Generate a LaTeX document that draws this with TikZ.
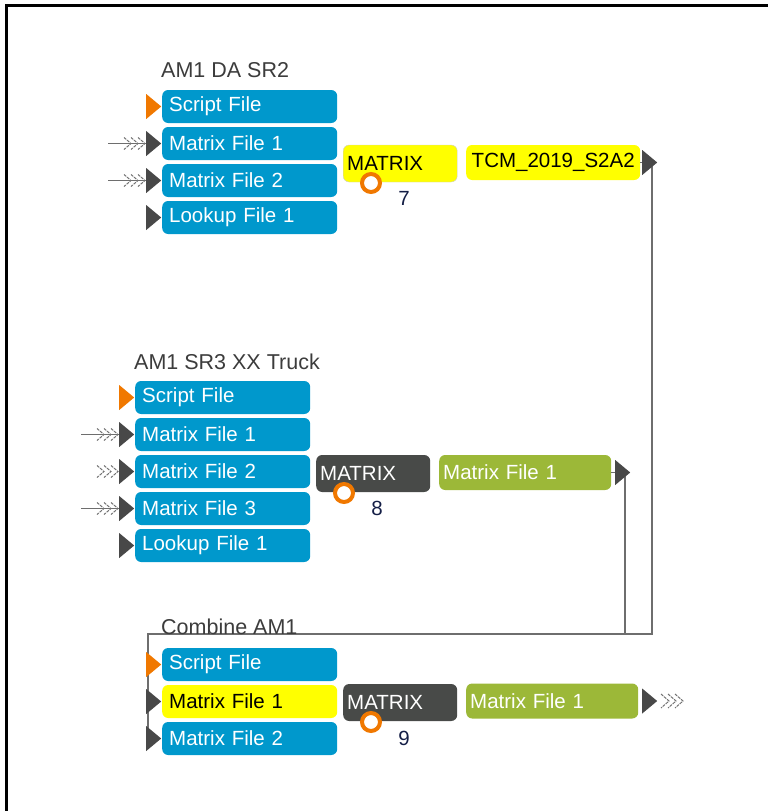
\documentclass[tikz,border=0pt]{standalone}
\usepackage{fontspec}
\setmainfont{Liberation Sans}
\usetikzlibrary{shapes.geometric,positioning,calc}
\definecolor{portblue}{RGB}{0,152,204}
\definecolor{matyellow}{RGB}{255,255,0}
\definecolor{darkbox}{RGB}{72,74,72}
\definecolor{olive}{RGB}{156,184,56}
\definecolor{portorange}{RGB}{240,120,0}
\definecolor{tridark}{RGB}{72,72,72}
\definecolor{wiregray}{RGB}{110,110,110}
\definecolor{titlegray}{RGB}{60,60,60}
\definecolor{numblue}{RGB}{20,30,70}

\begin{document}
\begin{tikzpicture}[x=1pt, y=-1pt,
    every node/.style={font=\fontsize{20.5}{24}\selectfont},
    title/.style={anchor=west, inner sep=0pt, text=titlegray,
        font=\fontsize{21.5}{24}\selectfont},
    port/.style={rectangle, rounded corners=6pt, fill=portblue, text=white,
        minimum width=175pt, minimum height=33pt, text width=161pt,
        inner xsep=7pt, inner ysep=0pt, align=left, anchor=west},
    inport/.style={isosceles triangle, isosceles triangle stretches,
        inner sep=0pt, minimum width=25pt, minimum height=15pt,
        fill=tridark, anchor=lower side},
    matbox/.style={rectangle, rounded corners=6pt, minimum width=114pt,
        minimum height=37pt, text width=106pt, inner xsep=4pt,
        inner ysep=0pt, align=left, anchor=west},
    outbox/.style={rectangle, rounded corners=6pt, minimum height=35pt,
        inner xsep=4pt, inner ysep=0pt, align=left, anchor=west},
    ring/.style={circle, draw=portorange, line width=4pt, fill=white,
        minimum size=18pt, inner sep=0pt},
    num/.style={text=numblue, inner sep=0pt},
    wire/.style={wiregray, line width=1.2pt},
    chev/.style={gray!90!black, line width=1pt, dash pattern=on 3pt off 1pt}]
    \useasboundingbox (0,0) rectangle (768,811);
    % Frame
    \draw[line width=3pt] (6,811) -- (6,5) -- (768,5);

    % Wires to Combine AM1
    \coordinate (k1) at (652,634);
    \coordinate (k2) at (625,634);
    \coordinate (k3) at (148,634);
    \draw[wire] (k1 |- 0,162.5) -- (k1) -- (k3) -- (148,748);
    \draw[wire] (k2 |- 0,472.5) -- (k2);

    % AM1 DA SR2
    \node[title] (t1) at (161,70) {AM1 DA SR2};
    \node[port] (a1) at (162,106.5) {Script File};
    \node[port] (a2) at (162,143.5) {Matrix File 1};
    \node[port] (a3) at (162,180.5) {Matrix File 2};
    \node[port] (a4) at (162,217.5) {Lookup File 1};
    \node[inport, fill=portorange] (a1i) at (146,106.5) {};
    \node[inport] (a2i) at (146,143.5) {};
    \node[inport] (a3i) at (146,180.5) {};
    \node[inport] (a4i) at (146,217.5) {};
    \coordinate (a2f) at (108,143.5);
    \coordinate (a3f) at (108,180.5);
    \draw[wiregray] (a2f) -- (a2i.lower side);
    \draw[wiregray] (a3f) -- (a3i.lower side);
    \draw[chev] (124,137.5) -- (131,143.5) -- (124,149.5) (131,137.5) -- (138,143.5) -- (131,149.5)
        (138,137.5) -- (145,143.5) -- (138,149.5);
    \draw[chev] (124,174.5) -- (131,180.5) -- (124,186.5) (131,174.5) -- (138,180.5) -- (131,186.5)
        (138,174.5) -- (145,180.5) -- (138,186.5);
    \node[matbox, fill=matyellow, draw=gray!40] (m7) at (343,163.5) {MATRIX};
    \node[ring] (r7) at (371,183) {};
    \node[num] (n7) at (404,198) {7};
    \node[outbox, fill=matyellow, minimum width=174pt] (tcm) at (466,162.5) {TCM\_2019\_S2A2};
    \node[inport] (tcmo) at (642,162.5) {};
    \draw[wire] (tcm.east) -- (tcmo.lower side);

    % AM1 SR3 XX Truck
    \node[title] (t2) at (134,362) {AM1 SR3 XX Truck};
    \node[port] (b1) at (135,397.5) {Script File};
    \node[port] (b2) at (135,434.5) {Matrix File 1};
    \node[port] (b3) at (135,471.5) {Matrix File 2};
    \node[port] (b4) at (135,508.5) {Matrix File 3};
    \node[port] (b5) at (135,545.5) {Lookup File 1};
    \node[inport, fill=portorange] (b1i) at (119,397.5) {};
    \node[inport] (b2i) at (119,434.5) {};
    \node[inport] (b3i) at (119,471.5) {};
    \node[inport] (b4i) at (119,508.5) {};
    \node[inport] (b5i) at (119,545.5) {};
    \coordinate (b2f) at (81,434.5);
    \coordinate (b4f) at (81,508.5);
    \draw[wiregray] (b2f) -- (b2i.lower side);
    \draw[wiregray] (b4f) -- (b4i.lower side);
    \draw[chev] (97,428.5) -- (104,434.5) -- (97,440.5) (104,428.5) -- (111,434.5) -- (104,440.5)
        (111,428.5) -- (118,434.5) -- (111,440.5);
    \draw[chev] (97,465.5) -- (104,471.5) -- (97,477.5) (104,465.5) -- (111,471.5) -- (104,477.5)
        (111,465.5) -- (118,471.5) -- (111,477.5);
    \draw[chev] (97,502.5) -- (104,508.5) -- (97,514.5) (104,502.5) -- (111,508.5) -- (104,514.5)
        (111,502.5) -- (118,508.5) -- (111,514.5);
    \node[matbox, fill=darkbox, text=white] (m8) at (316,473.5) {MATRIX};
    \node[ring] (r8) at (344,493) {};
    \node[num] (n8) at (377,508) {8};
    \node[outbox, fill=olive, text=white, minimum width=172pt, text width=164pt] (mf8) at (439,472.5) {Matrix File 1};
    \node[inport] (mf8o) at (615,472.5) {};
    \draw[wire] (mf8.east) -- (mf8o.lower side);

    % Combine AM1
    \node[title] (t3) at (161,627) {Combine AM1};
    \node[port] (c1) at (162,664.5) {Script File};
    \node[port, fill=matyellow, text=black] (c2) at (162,701.5) {Matrix File 1};
    \node[port] (c3) at (162,738.5) {Matrix File 2};
    \node[inport, fill=portorange] (c1i) at (146,664.5) {};
    \node[inport] (c2i) at (146,701.5) {};
    \node[inport] (c3i) at (146,738.5) {};
    \node[matbox, fill=darkbox, text=white] (m9) at (343,702.5) {MATRIX};
    \node[ring] (r9) at (371,722) {};
    \node[num] (n9) at (404,738) {9};
    \node[outbox, fill=olive, text=white, minimum width=172pt, text width=164pt] (mf9) at (466,701) {Matrix File 1};
    \node[inport] (mf9o) at (642,701) {};
    \draw[chev] (661,694) -- (669,701) -- (661,708) (668,694) -- (676,701) -- (668,708)
        (675,694) -- (683,701) -- (675,708);
\end{tikzpicture}
\end{document}
